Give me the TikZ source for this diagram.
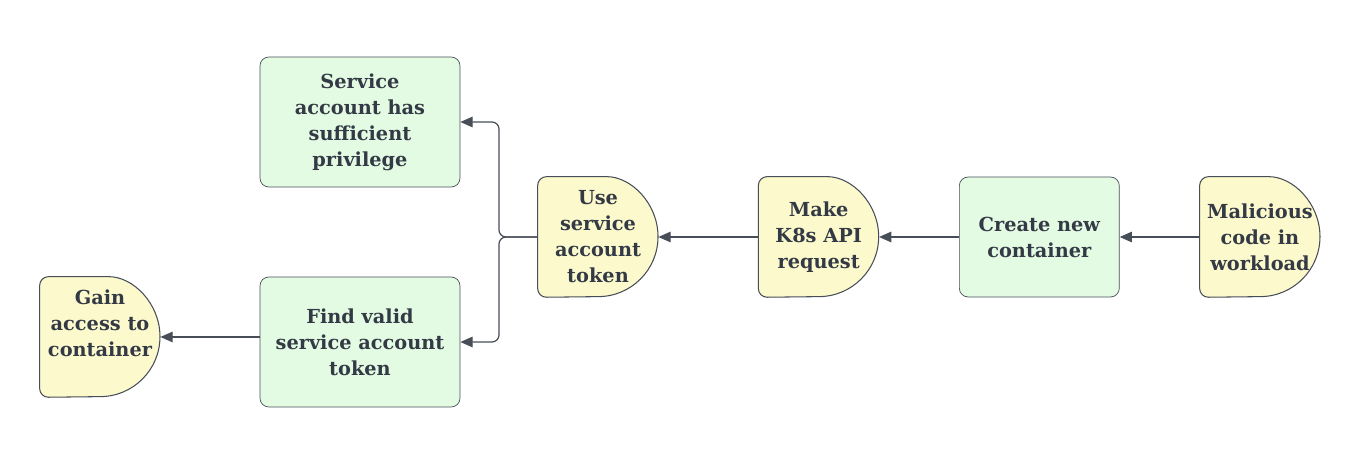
\documentclass[tikz,border=0pt]{standalone}
\usepackage{fontspec}
\setmainfont{DejaVu Serif}
\usepackage{tikz}
\usetikzlibrary{arrows.meta, positioning, calc, backgrounds}
\definecolor{boxgreen}{RGB}{227, 250, 227}
\definecolor{gateyellow}{RGB}{252, 250, 205}
\definecolor{edgegray}{RGB}{72, 78, 88}
\definecolor{inkdark}{RGB}{51, 58, 69}

\begin{document}
\begin{tikzpicture}[x=0.02cm, y=-0.02cm,
  txt/.style={align=center, text=inkdark, font=\bfseries\fontsize{11}{14.8}\selectfont},
  actbox/.style={txt, draw=edgegray, fill=boxgreen, rounded corners=5pt, minimum width=4cm, minimum height=2.6cm, inner sep=2pt},
  gate/.style={txt, minimum width=2.4cm, minimum height=2.4cm, inner sep=1pt},
  link/.style={draw=edgegray, line width=0.7pt, -{Triangle[length=7pt, width=6pt]}}]
\useasboundingbox (0,0) rectangle (1370,462);
% attack chain, right to left
\node[gate] (mal) at (1260,237) {Malicious\\code in\\workload};
\node[actbox, minimum width=3.2cm, minimum height=2.4cm, left=1.6cm of mal] (create) {Create new\\container};
\node[gate, left=1.6cm of create] (api) {Make\\K8s API\\request};
\node[gate, left=2cm of api] (token) {Use\\service\\account\\token};
\node[actbox] (priv) at (360,122) {Service\\account has\\sufficient\\privilege};
\node[actbox] (find) at (360,342) {Find valid\\service account\\token};
\node[gate, label={[txt, yshift=8pt]center:Gain\\access to\\container}] (gain) at (100,337) {};
% gate outlines
\begin{scope}[on background layer]
\foreach \g in {mal, api, token, gain}
  \draw[draw=edgegray, fill=gateyellow, line width=0.6pt] (\g.north) arc (90:-90:1.2cm) [rounded corners=5pt] -- (\g.south west) -- (\g.north west) -- cycle;
\end{scope}
% connectors
\coordinate (fork) at ($(token.west)!0.5!(token.west -| priv.east)$);
\draw[link] (mal) -- (create);
\draw[link] (create) -- (api);
\draw[link] (api) -- (token);
\draw[link, rounded corners=4pt] (token.west) -- (fork) |- (priv.east);
\draw[link, rounded corners=4pt] (token.west) -- (fork) |- (find.east);
\draw[link] (gain.east -| find.west) -- (gain.east);
\end{tikzpicture}
\end{document}
